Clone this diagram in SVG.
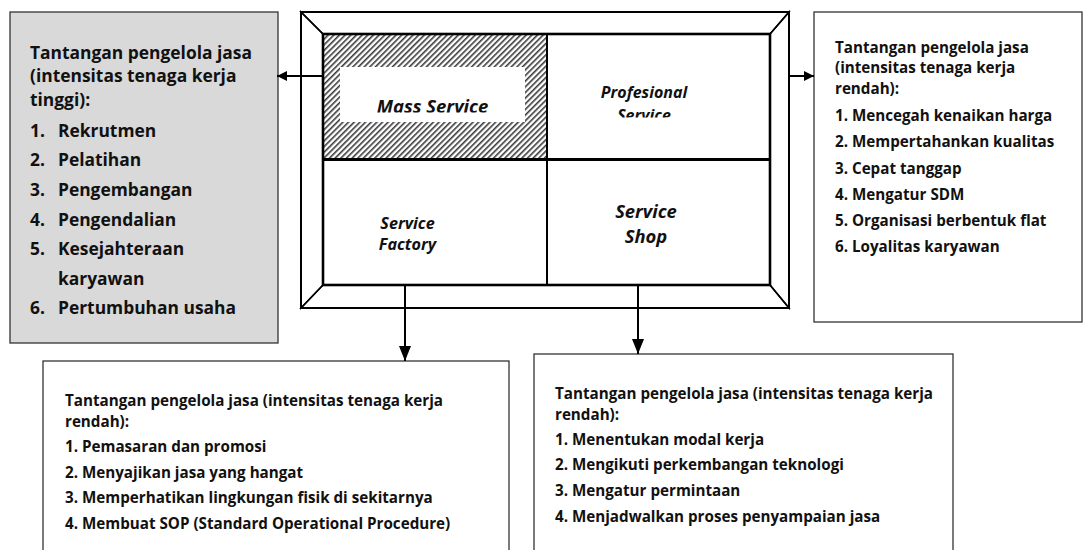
<svg xmlns="http://www.w3.org/2000/svg" width="1087" height="550" viewBox="0 0 1087 550">
<defs>
<style>
.box{stroke:#333;stroke-width:1.3}
.t{font-family:"Open Sans","Noto Sans",sans-serif;font-weight:bold;fill:#111}
.lg{font-size:17.4px}
.md{font-size:15.2px}
.sm{font-size:15.2px}
.cell{font-family:"Open Sans","Noto Sans",sans-serif;font-weight:bold;font-style:italic;fill:#111;text-anchor:middle}
.edge{stroke:#000;stroke-width:1.6;fill:none}
</style>
<pattern id="hatch" width="4" height="4" patternUnits="userSpaceOnUse" patternTransform="rotate(45)">
<rect width="4" height="4" fill="#fff"/>
<rect width="1.6" height="4" fill="#3a3a3a"/>
</pattern>
<marker id="ah" viewBox="0 0 10 10" refX="10" refY="5" markerWidth="10" markerHeight="10" markerUnits="userSpaceOnUse" orient="auto">
<path d="M0,0 L10,5 L0,10 z" fill="#000"/>
</marker>
<marker id="ahv" viewBox="0 0 10 10" refX="10" refY="5" markerWidth="15" markerHeight="12" markerUnits="userSpaceOnUse" orient="auto" preserveAspectRatio="none">
<path d="M0,0 L10,5 L0,10 z" fill="#000"/>
</marker>
<clipPath id="clipMass"><rect x="340" y="66" width="185" height="46.5"/></clipPath>
<clipPath id="clipProf"><rect x="560" y="60" width="170" height="57.5"/></clipPath>
</defs>
<rect width="1087" height="550" fill="#fff"/>

<g id="frame">
<rect x="301" y="12" width="488" height="296" fill="#fff" stroke="#000" stroke-width="2"/>
<polygon points="301,12 323,34 323,285 301,308" fill="#fff" class="edge"/>
<polygon points="789,12 770,34 770,285 789,308" fill="#a6a6a6" class="edge"/>
<polygon points="301,308 323,285 770,285 789,308" fill="#d0d0d0" class="edge"/>
<polygon points="301,12 323,34 770,34 789,12" fill="#fff" class="edge"/>
<rect x="301" y="12" width="488" height="296" fill="none" stroke="#000" stroke-width="2"/>
</g>

<g id="mass-service">
<rect x="323" y="34" width="224" height="125" fill="url(#hatch)"/>
<rect x="340" y="67" width="185" height="55" fill="#fff"/>
<text class="cell" x="432.5" y="113" font-size="18.5" clip-path="url(#clipMass)">Mass Service</text>
</g>
<g id="profesional-service">
<rect x="547" y="34" width="223" height="125" fill="#fff"/>
<g clip-path="url(#clipProf)">
<text class="cell" x="644" y="97.5" font-size="16">Profesional</text>
<text class="cell" x="644" y="121" font-size="16">Service</text>
</g>
</g>
<g id="service-factory">
<rect x="323" y="159" width="224" height="126" fill="#fff"/>
<text class="cell" x="407.5" y="229" font-size="16.2">Service</text>
<text class="cell" x="407.5" y="250" font-size="16.2">Factory</text>
</g>
<g id="service-shop">
<rect x="547" y="159" width="223" height="126" fill="#fff"/>
<text class="cell" x="646" y="218" font-size="18.4">Service</text>
<text class="cell" x="646" y="242.5" font-size="18.4">Shop</text>
</g>
<g id="grid">
<rect x="323" y="34" width="447" height="251" fill="none" stroke="#000" stroke-width="2.6"/>
<line x1="323" y1="159.5" x2="770" y2="159.5" stroke="#000" stroke-width="3"/>
<line x1="547" y1="34" x2="547" y2="285" stroke="#000" stroke-width="2"/>
</g>

<g id="box-left">
<rect class="box" x="10" y="12" width="268" height="331" fill="#d9d9d9"/>
<text class="t lg" x="30" y="58.5">Tantangan pengelola jasa</text>
<text class="t lg" x="30" y="82">(intensitas tenaga kerja</text>
<text class="t lg" x="30" y="105.5">tinggi):</text>
<text class="t lg" x="30" y="137">1.</text><text class="t lg" x="58" y="137">Rekrutmen</text>
<text class="t lg" x="30" y="166">2.</text><text class="t lg" x="58" y="166">Pelatihan</text>
<text class="t lg" x="30" y="196">3.</text><text class="t lg" x="58" y="196">Pengembangan</text>
<text class="t lg" x="30" y="225.5">4.</text><text class="t lg" x="58" y="225.5">Pengendalian</text>
<text class="t lg" x="30" y="255">5.</text><text class="t lg" x="58" y="255">Kesejahteraan</text>
<text class="t lg" x="58" y="284.5">karyawan</text>
<text class="t lg" x="30" y="313.5">6.</text><text class="t lg" x="58" y="313.5">Pertumbuhan usaha</text>
</g>

<g id="box-right">
<rect class="box" x="814" y="12" width="268" height="310" fill="#fff"/>
<text class="t md" x="835" y="52.5">Tantangan pengelola jasa</text>
<text class="t md" x="835" y="73.2">(intensitas tenaga kerja</text>
<text class="t md" x="835" y="94">rendah):</text>
<text class="t md" x="835" y="121">1. Mencegah kenaikan harga</text>
<text class="t md" x="835" y="147">2. Mempertahankan kualitas</text>
<text class="t md" x="835" y="174">3. Cepat tanggap</text>
<text class="t md" x="835" y="200">4. Mengatur SDM</text>
<text class="t md" x="835" y="226">5. Organisasi berbentuk flat</text>
<text class="t md" x="835" y="252">6. Loyalitas karyawan</text>
</g>

<g id="box-bottom-left">
<rect class="box" x="43" y="361" width="466" height="200" fill="#fff"/>
<text class="t sm" x="65" y="406">Tantangan pengelola jasa (intensitas tenaga kerja</text>
<text class="t sm" x="65" y="427">rendah):</text>
<text class="t sm" x="65" y="452">1. Pemasaran dan promosi</text>
<text class="t sm" x="65" y="477.5">2. Menyajikan jasa yang hangat</text>
<text class="t sm" x="65" y="503">3. Memperhatikan lingkungan fisik di sekitarnya</text>
<text class="t sm" x="65" y="528.5">4. Membuat SOP (Standard Operational Procedure)</text>
</g>

<g id="box-bottom-right">
<rect class="box" x="534" y="354" width="419" height="210" fill="#fff"/>
<text class="t sm" x="555" y="398.5">Tantangan pengelola jasa (intensitas tenaga kerja</text>
<text class="t sm" x="555" y="420">rendah):</text>
<text class="t sm" x="555" y="444.5">1. Menentukan modal kerja</text>
<text class="t sm" x="555" y="470">2. Mengikuti perkembangan teknologi</text>
<text class="t sm" x="555" y="495.5">3. Mengatur permintaan</text>
<text class="t sm" x="555" y="522">4. Menjadwalkan proses penyampaian jasa</text>
</g>

<g id="connectors" stroke="#000" stroke-width="2" fill="none">
<line x1="323" y1="76" x2="277" y2="76" marker-end="url(#ah)"/>
<line x1="789" y1="76" x2="814" y2="76" marker-end="url(#ah)"/>
<line x1="405" y1="285" x2="405" y2="361" marker-end="url(#ahv)"/>
<line x1="638" y1="285" x2="638" y2="354" marker-end="url(#ahv)"/>
</g>
</svg>
